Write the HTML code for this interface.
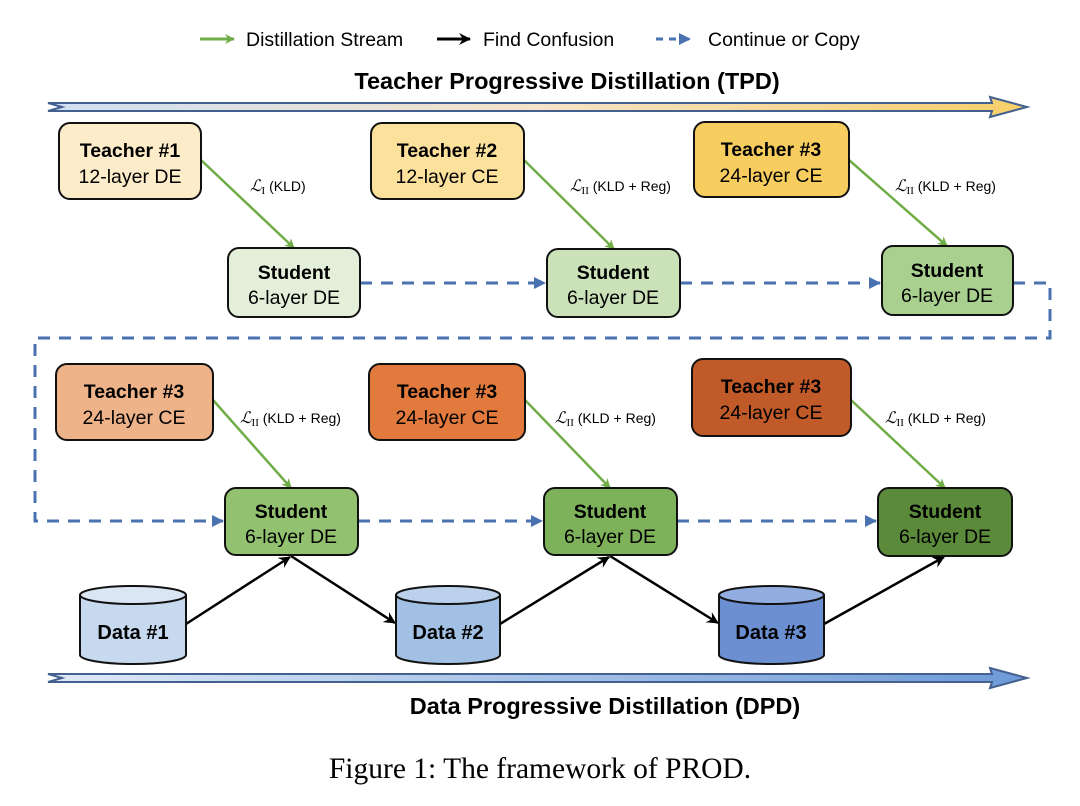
<!DOCTYPE html>
<html><head><meta charset="utf-8"><style>
html,body{margin:0;padding:0;background:#fff;}
svg{display:block;font-family:"Liberation Sans",sans-serif;}
.b{font-weight:bold;font-size:19.5px;}
.n{font-size:19.5px;}
.d{font-weight:bold;font-size:20px;}
.l{font-size:14px;}
</style></head><body>
<svg width="1080" height="806" viewBox="0 0 1080 806" xmlns="http://www.w3.org/2000/svg">
<defs>
<marker id="ga" markerWidth="10" markerHeight="10" refX="9" refY="5" orient="auto" markerUnits="userSpaceOnUse"><path d="M0,0 L10,5 L0,10 L3,5 Z" fill="#70ad47"/></marker>
<marker id="ka" markerWidth="12" markerHeight="12" refX="11" refY="6" orient="auto" markerUnits="userSpaceOnUse"><path d="M0,0 L12,6 L0,12 L4,6 Z" fill="#000"/></marker>
<marker id="ba" markerWidth="12" markerHeight="12" refX="11" refY="6" orient="auto" markerUnits="userSpaceOnUse"><path d="M0,0 L12,6 L0,12 Z" fill="#4a72b0"/></marker>
<linearGradient id="tg" x1="0" x2="1"><stop offset="0" stop-color="#cfe0f3"/><stop offset="0.5" stop-color="#f6e3c8"/><stop offset="1" stop-color="#f7cf6a"/></linearGradient>
<linearGradient id="dg" x1="0" x2="1"><stop offset="0" stop-color="#dfeaf7"/><stop offset="1" stop-color="#6d9ad8"/></linearGradient>
</defs>

<line x1="200" y1="39" x2="234" y2="39" stroke="#70ad47" stroke-width="3" marker-end="url(#ga)"/>
<text x="246" y="46" class="n">Distillation Stream</text>
<line x1="437" y1="39" x2="470" y2="39" stroke="#000" stroke-width="3" marker-end="url(#ka)"/>
<text x="483" y="46" class="n">Find Confusion</text>
<line x1="656" y1="39" x2="690" y2="39" stroke="#4a72b0" stroke-width="3" stroke-dasharray="7,6" marker-end="url(#ba)"/>
<text x="708" y="46" class="n">Continue or Copy</text>

<text x="567" y="89" text-anchor="middle" font-weight="bold" font-size="23.5">Teacher Progressive Distillation (TPD)</text>
<path d="M48,103 L992,103 L990,97 L1027,107 L990,117 L992,111 L48,111 L62,107 Z" fill="url(#tg)" stroke="#44608f" stroke-width="2"/>

<g fill="none" stroke="#4a72b0" stroke-width="3" stroke-dasharray="12,9">
<line x1="360" y1="283" x2="545" y2="283" marker-end="url(#ba)"/>
<line x1="680" y1="283" x2="880" y2="283" marker-end="url(#ba)"/>
<path d="M1013,283 L1050,283 L1050,338 L35,338 L35,521 L223,521" marker-end="url(#ba)"/>
<line x1="358" y1="521" x2="542" y2="521" marker-end="url(#ba)"/>
<line x1="677" y1="521" x2="876" y2="521" marker-end="url(#ba)"/>
</g>

<g stroke="#70ad47" stroke-width="2.5">
<line x1="201" y1="160" x2="294" y2="248" marker-end="url(#ga)"/>
<line x1="524" y1="160" x2="614" y2="249" marker-end="url(#ga)"/>
<line x1="849" y1="160" x2="947" y2="246" marker-end="url(#ga)"/>
<line x1="213" y1="400" x2="291" y2="488" marker-end="url(#ga)"/>
<line x1="525" y1="400" x2="610" y2="488" marker-end="url(#ga)"/>
<line x1="851" y1="400" x2="945" y2="488" marker-end="url(#ga)"/>
</g>
<g class="l">
<text x="250" y="191"><tspan font-family="Liberation Serif" font-style="italic" font-size="16">ℒ</tspan><tspan font-family="Liberation Serif" font-size="11" dy="3">I</tspan><tspan dy="-3"> (KLD)</tspan></text>
<text x="570" y="191"><tspan font-family="Liberation Serif" font-style="italic" font-size="16">ℒ</tspan><tspan font-family="Liberation Serif" font-size="11" dy="3">II</tspan><tspan dy="-3"> (KLD + Reg)</tspan></text>
<text x="895" y="191"><tspan font-family="Liberation Serif" font-style="italic" font-size="16">ℒ</tspan><tspan font-family="Liberation Serif" font-size="11" dy="3">II</tspan><tspan dy="-3"> (KLD + Reg)</tspan></text>
<text x="240" y="423"><tspan font-family="Liberation Serif" font-style="italic" font-size="16">ℒ</tspan><tspan font-family="Liberation Serif" font-size="11" dy="3">II</tspan><tspan dy="-3"> (KLD + Reg)</tspan></text>
<text x="555" y="423"><tspan font-family="Liberation Serif" font-style="italic" font-size="16">ℒ</tspan><tspan font-family="Liberation Serif" font-size="11" dy="3">II</tspan><tspan dy="-3"> (KLD + Reg)</tspan></text>
<text x="885" y="423"><tspan font-family="Liberation Serif" font-style="italic" font-size="16">ℒ</tspan><tspan font-family="Liberation Serif" font-size="11" dy="3">II</tspan><tspan dy="-3"> (KLD + Reg)</tspan></text>
</g>

<g stroke="#000" stroke-width="2.5">
<line x1="186" y1="624" x2="290" y2="557" marker-end="url(#ka)"/>
<line x1="291" y1="556" x2="395" y2="623" marker-end="url(#ka)"/>
<line x1="500" y1="624" x2="609" y2="557" marker-end="url(#ka)"/>
<line x1="610" y1="556" x2="718" y2="623" marker-end="url(#ka)"/>
<line x1="824" y1="624" x2="944" y2="557" marker-end="url(#ka)"/>
</g>

<g stroke="#111" stroke-width="2">
<rect x="59" y="123" width="142" height="76" rx="11" fill="#fdecca"/>
<rect x="371" y="123" width="153" height="76" rx="11" fill="#fbe19c"/>
<rect x="694" y="122" width="155" height="75" rx="11" fill="#f8cd5f"/>
<rect x="228" y="248" width="132" height="69" rx="11" fill="#e3efd9"/>
<rect x="547" y="249" width="133" height="68" rx="11" fill="#cbe2b9"/>
<rect x="882" y="246" width="131" height="69" rx="11" fill="#a9d08e"/>
<rect x="56" y="364" width="157" height="76" rx="11" fill="#efb38a"/>
<rect x="369" y="364" width="156" height="76" rx="11" fill="#e27a3d"/>
<rect x="692" y="359" width="159" height="77" rx="11" fill="#c05a28"/>
<rect x="225" y="488" width="133" height="67" rx="11" fill="#92c270"/>
<rect x="544" y="488" width="133" height="67" rx="11" fill="#7db25a"/>
<rect x="878" y="488" width="134" height="68" rx="11" fill="#5a8a3a"/>
</g>
<g text-anchor="middle">
<text x="130" y="157" class="b">Teacher #1</text><text x="130" y="183" class="n">12-layer DE</text>
<text x="447" y="157" class="b">Teacher #2</text><text x="447" y="183" class="n">12-layer CE</text>
<text x="771" y="156" class="b">Teacher #3</text><text x="771" y="182" class="n">24-layer CE</text>
<text x="294" y="279" class="b">Student</text><text x="294" y="304" class="n">6-layer DE</text>
<text x="613" y="279" class="b">Student</text><text x="613" y="304" class="n">6-layer DE</text>
<text x="947" y="277" class="b">Student</text><text x="947" y="302" class="n">6-layer DE</text>
<text x="134" y="398" class="b">Teacher #3</text><text x="134" y="424" class="n">24-layer CE</text>
<text x="447" y="398" class="b">Teacher #3</text><text x="447" y="424" class="n">24-layer CE</text>
<text x="771" y="393" class="b">Teacher #3</text><text x="771" y="419" class="n">24-layer CE</text>
<text x="291" y="518" class="b">Student</text><text x="291" y="543" class="n">6-layer DE</text>
<text x="610" y="518" class="b">Student</text><text x="610" y="543" class="n">6-layer DE</text>
<text x="945" y="518" class="b">Student</text><text x="945" y="543" class="n">6-layer DE</text>
</g>

<g stroke="#111" stroke-width="2">
<path d="M80,595 L80,655 A53,9 0 0 0 186,655 L186,595" fill="#c6d9ee"/>
<ellipse cx="133" cy="595" rx="53" ry="9" fill="#dae6f4"/>
<path d="M396,595 L396,655 A52,9 0 0 0 500,655 L500,595" fill="#a2c0e3"/>
<ellipse cx="448" cy="595" rx="52" ry="9" fill="#bcd1ec"/>
<path d="M719,595 L719,655 A52.5,9 0 0 0 824,655 L824,595" fill="#6b8fd1"/>
<ellipse cx="771.5" cy="595" rx="52.5" ry="9" fill="#92aee0"/>
</g>
<g text-anchor="middle">
<text x="133" y="639" class="d">Data #1</text>
<text x="448" y="639" class="d">Data #2</text>
<text x="771" y="639" class="d">Data #3</text>
</g>

<path d="M48,674 L992,674 L990,668 L1027,678 L990,688 L992,682 L48,682 L62,678 Z" fill="url(#dg)" stroke="#44608f" stroke-width="2"/>
<text x="605" y="714" text-anchor="middle" font-weight="bold" font-size="23.5">Data Progressive Distillation (DPD)</text>

<text x="540" y="778" text-anchor="middle" font-family="Liberation Serif" font-size="29.5">Figure 1: The framework of PROD.</text>
</svg>
</body></html>
